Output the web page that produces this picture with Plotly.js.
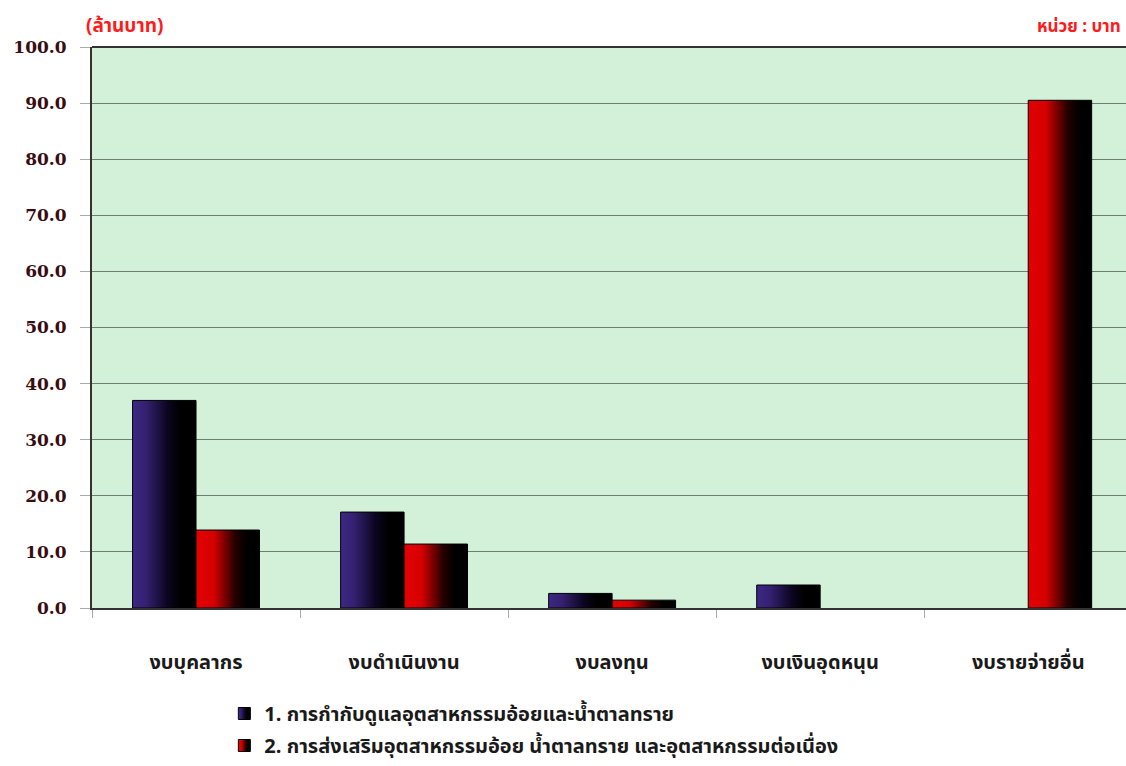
<!DOCTYPE html>
<html>
<head>
<meta charset="utf-8">
<script src="https://cdn.plot.ly/plotly-3.0.1.min.js"></script>
<style>
html,body{margin:0;padding:0;background:#fff;}
#chart{width:1126px;height:766px;}
</style>
</head>
<body>
<div id="chart"></div>
<script>
// Data
const categories = ["งบบุคลากร", "งบดำเนินงาน", "งบลงทุน", "งบเงินอุดหนุน", "งบรายจ่ายอื่น"];
const seriesNames = [
  "1. การกำกับดูแลอุตสาหกรรมอ้อยและน้ำตาลทราย",
  "2. การส่งเสริมอุตสาหกรรมอ้อย น้ำตาลทราย และอุตสาหกรรมต่อเนื่อง"
];
const series1 = [37.0, 17.1, 2.6, 4.1, null];
const series2 = [13.9, 11.4, 1.4, null, 90.5];
const yTickVals = [0, 10, 20, 30, 40, 50, 60, 70, 80, 90, 100];
const yTickText = ["0.0", "10.0", "20.0", "30.0", "40.0", "50.0", "60.0", "70.0", "80.0", "90.0", "100.0"];
const unitLeft = "(ล้านบาท)";
const unitRight = "หน่วย : บาท";

const thaiFont = "'Noto Sans Thai','Noto Sans','DejaVu Sans',sans-serif";

const traces = [
  {type: "bar", name: seriesNames[0], x: categories, y: series1,
   marker: {color: "#2e1866", line: {color: "#000", width: 1}}, legendgroup: "a"},
  {type: "bar", name: seriesNames[1], x: categories, y: series2,
   marker: {color: "#d00000", line: {color: "#000", width: 1}}, legendgroup: "b"}
];

const layout = {
  width: 1126, height: 766,
  margin: {l: 92, r: 0, t: 47, b: 158},
  paper_bgcolor: "#ffffff",
  plot_bgcolor: "#d3f1d9",
  barmode: "group",
  bargap: 0.39,
  bargroupgap: 0,
  showlegend: true,
  legend: {
    xref: "paper", yref: "container",
    x: 0.128, y: 0.094, xanchor: "left", yanchor: "top",
    orientation: "v", traceorder: "grouped", tracegroupgap: 3,
    font: {family: thaiFont, size: 20, color: "#1a1a1a", weight: "bold"},
    bgcolor: "rgba(0,0,0,0)", itemwidth: 30
  },
  xaxis: {
    type: "category",
    range: [-0.5, 4.47],
    showline: true, linecolor: "#333", linewidth: 2,
    ticks: "outside", tickson: "boundaries", ticklen: 8, tickcolor: "#aaa", tickwidth: 1,
    ticklabelstandoff: 35,
    tickfont: {family: thaiFont, size: 20, color: "#1a1a1a", weight: "bold"},
    showgrid: false, zeroline: false, fixedrange: true
  },
  yaxis: {
    range: [0, 100],
    tickvals: yTickVals, ticktext: yTickText,
    showline: true, linecolor: "#333", linewidth: 2,
    ticks: "outside", ticklen: 10, tickcolor: "#aaa", tickwidth: 1,
    ticklabelstandoff: 10,
    tickfont: {family: "'DejaVu Serif',serif", size: 17, color: "#3a0c12", weight: "bold"},
    showgrid: true, gridcolor: "#6e7d72", gridwidth: 1,
    zeroline: false, fixedrange: true
  },
  shapes: [
    {type: "line", xref: "paper", yref: "paper", x0: 0, x1: 1, y0: 1, y1: 1,
     line: {color: "#333", width: 2}}
  ],
  annotations: [
    {text: unitLeft, xref: "paper", yref: "paper", x: -0.008, y: 1.0, xanchor: "left", yanchor: "bottom",
     yshift: 4, showarrow: false, font: {family: thaiFont, size: 19, color: "#ff1a1a", weight: "bold"}},
    {text: unitRight, xref: "paper", yref: "paper", x: 0.997, y: 1.0, xanchor: "right", yanchor: "bottom",
     yshift: 5, showarrow: false, font: {family: thaiFont, size: 17, color: "#ff1a1a", weight: "bold"}}
  ]
};

Plotly.newPlot("chart", traces, layout, {displayModeBar: false, staticPlot: true}).then(function(gd){
  const svg = gd.querySelector("svg.main-svg");
  const ns = "http://www.w3.org/2000/svg";
  let defs = svg.querySelector("defs");
  if (!defs) { defs = document.createElementNS(ns, "defs"); svg.insertBefore(defs, svg.firstChild); }
  function grad(id, stops) {
    const g = document.createElementNS(ns, "linearGradient");
    g.setAttribute("id", id);
    g.setAttribute("x1", "0"); g.setAttribute("x2", "1"); g.setAttribute("y1", "0"); g.setAttribute("y2", "0");
    stops.forEach(function(s){
      const st = document.createElementNS(ns, "stop");
      st.setAttribute("offset", s[0]); st.setAttribute("stop-color", s[1]);
      g.appendChild(st);
    });
    defs.appendChild(g);
  }
  grad("gBlue", [["0%", "#3d2885"], ["22%", "#33206e"], ["55%", "#0c0520"], ["75%", "#000000"], ["100%", "#000000"]]);
  grad("gRed", [["0%", "#e60000"], ["28%", "#d40000"], ["62%", "#240000"], ["80%", "#000000"], ["100%", "#000000"]]);
  const ids = ["gBlue", "gRed"];
  gd.querySelectorAll(".barlayer .trace").forEach(function(tr, i){
    tr.querySelectorAll("path").forEach(function(p){ p.style.fill = "url(#" + ids[i] + ")"; });
  });
  gd.querySelectorAll(".legend .traces").forEach(function(tr, i){
    tr.querySelectorAll(".legendpoints path").forEach(function(p){ p.style.fill = "url(#" + ids[i] + ")"; });
  });
});
</script>
</body>
</html>
